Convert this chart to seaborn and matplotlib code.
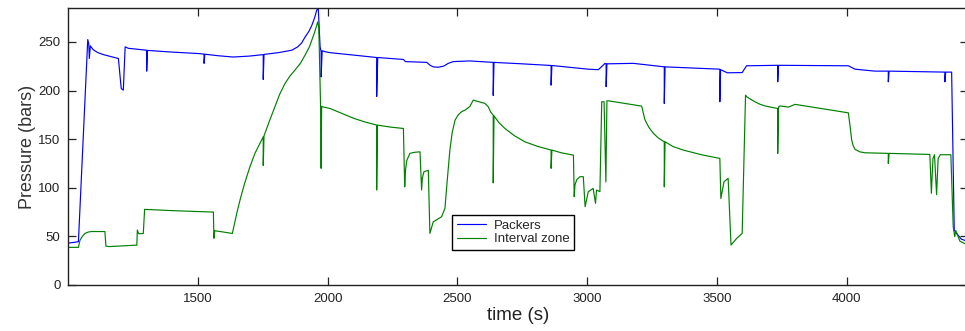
import matplotlib
matplotlib.use("Agg")
import matplotlib.pyplot as plt
import seaborn as sns
import pandas as pd

# values: (time in s, pressure in bars)
packers_time = [1000, 1040, 1076, 1080, 1082, 1086, 1097, 1115, 1136, 1165, 1194, 1205, 1213,
                1220, 1232, 1303, 1303, 1306, 1400, 1508, 1524, 1524, 1527, 1580, 1636, 1700,
                1752, 1752, 1755, 1810, 1862, 1885, 1900, 1913, 1928, 1939, 1950, 1958, 1964,
                1971, 1975, 1975, 1979, 1990, 2009, 2100, 2189, 2189, 2193, 2292, 2300, 2382,
                2395, 2407, 2425, 2446, 2465, 2484, 2548, 2606, 2638, 2638, 2641, 2750, 2861,
                2861, 2864, 3004, 3043, 3069, 3073, 3073, 3076, 3178, 3297, 3297, 3300, 3511,
                3511, 3514, 3540, 3597, 3614, 3734, 3734, 3737, 4006, 4032, 4109, 4160, 4160,
                4163, 4378, 4378, 4381, 4404, 4414, 4423, 4442, 4467]
packers_bar = [43, 44.5, 252.5, 248, 233, 246, 242, 239, 237, 235, 233, 202, 200.5,
               245, 243.5, 241.5, 220, 241.3, 239.6, 238, 237.5, 228, 237.4, 235.8, 234.5, 235.5,
               237, 211.5, 237.2, 239, 241.5, 245, 249, 255, 261, 267, 275, 282.7, 285,
               245, 240, 214, 241, 240, 239, 236.5, 234, 194, 234, 232, 229.8, 229,
               226, 224.4, 224, 225, 228, 229.8, 230.5, 229.5, 229, 195, 229, 227.5, 225.8,
               205.6, 225.8, 222, 221.5, 228, 227.5, 204, 227.5, 228, 224.4, 186.8, 224.4, 222,
               188.5, 221.5, 218.3, 218.5, 225.5, 226, 209, 226, 225.5, 222, 220, 220, 209,
               220, 219, 209, 219, 219, 56.5, 53, 47, 45]

interval_time = [1000, 1040, 1046, 1055, 1065, 1078, 1091, 1142, 1146, 1158, 1265, 1267, 1272,
                 1290, 1295, 1400, 1560, 1562, 1565, 1598, 1633, 1650, 1665, 1682, 1700, 1720,
                 1752, 1752, 1755, 1775, 1797, 1815, 1836, 1855, 1874, 1895, 1913, 1930, 1939,
                 1950, 1962, 1966, 1973, 1975, 1977, 2009, 2050, 2100, 2140, 2189, 2189, 2192,
                 2240, 2292, 2297, 2300, 2305, 2317, 2335, 2356, 2362, 2365, 2371, 2388, 2394,
                 2407, 2439, 2452, 2460, 2471, 2480, 2491, 2503, 2516, 2530, 2548, 2561, 2606,
                 2619, 2628, 2638, 2638, 2641, 2660, 2683, 2720, 2760, 2810, 2861, 2861, 2864,
                 2900, 2947, 2950, 2953, 2960, 2972, 2985, 2992, 3004, 3023, 3032, 3036, 3049,
                 3056, 3065, 3072, 3076, 3081, 3210, 3216, 3223, 3238, 3255, 3275, 3297, 3297,
                 3300, 3330, 3370, 3440, 3511, 3515, 3527, 3543, 3554, 3576, 3597, 3610, 3614,
                 3630, 3646, 3665, 3685, 3710, 3734, 3734, 3737, 3743, 3775, 3801, 4006, 4012,
                 4019, 4025, 4032, 4050, 4070, 4160, 4160, 4163, 4320, 4326, 4332, 4338, 4346,
                 4352, 4360, 4401, 4410, 4416, 4420, 4436, 4467]
interval_bar = [38.7, 38.7, 46, 50, 53, 54.5, 55, 55, 40, 39.5, 41, 56.5, 52.7,
                53, 77.8, 76.5, 75, 48, 55.8, 54.5, 53, 73.7, 90, 106, 121, 135.4,
                152.5, 123, 153.5, 168, 183.3, 196, 207.4, 215, 221, 228, 236.4, 245, 251.9,
                260, 270.7, 265, 183.3, 120, 183.5, 181.6, 177, 171.5, 168, 164.5, 97.7, 164.5,
                162.5, 161, 101, 118, 128, 135.4, 136.5, 137, 97.7, 110, 116.5, 118, 53.1,
                65, 70.2, 78.8, 105, 138.8, 157, 169.6, 175, 178.2, 180, 183.6, 190.2, 186.8,
                183.3, 178, 174.8, 105, 174, 167, 161, 153.5, 147.3, 142.5, 138.8, 120, 138.8,
                136, 133.6, 90.8, 103, 108.5, 111.4, 111.4, 80.5, 95.9, 99.4, 84, 97.7, 96,
                188.5, 188.5, 106, 189.5, 189.5, 184, 177, 169.6, 162, 156, 151, 147.3, 101,
                147.3, 142.5, 138.8, 134, 130.2, 89, 106.2, 109.7, 41.1, 48, 53, 195.3, 193.7,
                191, 188.5, 186, 184.2, 182.8, 181.6, 135.4, 183, 184.2, 183, 185.8, 177.1, 165,
                149, 143, 139.5, 137, 136, 135.4, 125, 135.4, 134.3, 94.3, 130, 134, 93,
                130, 134, 134, 60, 49.7, 56, 45, 41]

x_ticks = [1500, 2000, 2500, 3000, 3500, 4000]
y_ticks = [0, 50, 100, 150, 200, 250]

sns.set_style("ticks")
plt.rcParams['font.family'] = ['Liberation Sans', 'DejaVu Sans']

df_p = pd.DataFrame({'time': packers_time, 'pressure': packers_bar})
df_i = pd.DataFrame({'time': interval_time, 'pressure': interval_bar})

fig = plt.figure(figsize=(9.65, 3.31), dpi=100)
ax = fig.add_axes([0.0705, 0.139, 0.9326, 0.837])

sns.lineplot(data=df_p, x='time', y='pressure', sort=False, estimator=None,
             color='#0000ff', lw=0.85, label='Packers', ax=ax)
sns.lineplot(data=df_i, x='time', y='pressure', sort=False, estimator=None,
             color='#008000', lw=0.85, label='Interval zone', ax=ax)

ax.set_xlim(1000, 4467)
ax.set_ylim(0, 285)
ax.set_xticks(x_ticks)
ax.set_yticks(y_ticks)
ax.tick_params(direction='in', length=5.8, width=0.9, top=True, right=True,
               labelsize=9.5, pad=5.5, colors='#222222')
for s in ax.spines.values():
    s.set_linewidth(1.0)
    s.set_color('#222222')

ax.set_xlabel("time (s)", fontsize=13.5, color='#222222')
ax.set_ylabel("Pressure (bars)", fontsize=13, color='#333333')
ax.xaxis.set_label_coords(0.5, -0.08)
ax.yaxis.set_label_coords(-0.036, 0.5)

leg = ax.legend(loc='upper left', bbox_to_anchor=(0.427, 0.253), borderaxespad=0,
                fontsize=9.5, frameon=True, fancybox=False, handlelength=2.2,
                borderpad=0.35, labelspacing=0.1, handletextpad=0.6)
leg.get_frame().set_edgecolor('black')
leg.get_frame().set_linewidth(1.0)
leg.get_frame().set_alpha(1)

fig.savefig("out.png", dpi=100)
